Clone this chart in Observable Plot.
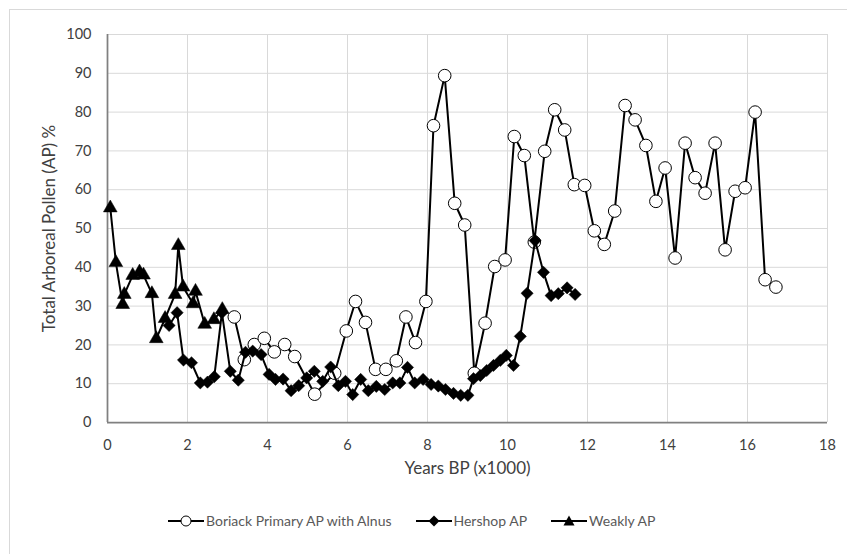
<!DOCTYPE html>
<html>
<head>
<meta charset="utf-8">
<script src="https://cdn.jsdelivr.net/npm/d3@7"></script>
<script src="https://cdn.jsdelivr.net/npm/@observablehq/plot@0.6"></script>
<style>
  body { margin: 0; background: #fff; }
  #wrap { position: relative; width: 847px; height: 554px; overflow: hidden; font-family: Lato, "Open Sans", sans-serif; }
  #frame { position: absolute; left: 9px; top: 9px; width: 900px; height: 600px; border: 1px solid #d9d9d9; box-sizing: border-box; }
  #chart { position: absolute; left: 0; top: 0; }
  #legend { position: absolute; left: 168px; top: 512px; display: flex; align-items: center; font-size: 14px; color: #595959; white-space: nowrap; }
  .item { display: flex; align-items: center; margin-right: 24px; }
  .item svg { margin-right: 2px; }
</style>
</head>
<body>
<div id="wrap">
  <div id="frame"></div>
  <div id="chart"></div>
  <div id="legend"></div>
</div>
<script>
// Boriack Primary AP with Alnus
const boriackX = [3.17,3.42,3.67,3.92,4.17,4.43,4.68,5.18,5.68,5.97,6.2,6.45,6.7,6.96,7.22,7.46,7.7,7.96,8.15,8.43,8.68,8.93,9.17,9.44,9.68,9.94,10.17,10.42,10.67,10.93,11.18,11.43,11.67,11.93,12.17,12.42,12.68,12.94,13.19,13.46,13.71,13.94,14.19,14.44,14.69,14.94,15.19,15.44,15.69,15.94,16.19,16.44,16.71];
const boriackY = [27.2,16.2,20.1,21.7,18.2,20.1,17,7.3,12.7,23.6,31.2,25.8,13.7,13.7,15.9,27.2,20.6,31.2,76.5,89.4,56.5,50.9,12.7,25.6,40.2,41.9,73.7,68.8,46.5,69.9,80.6,75.4,61.3,61.1,49.4,45.9,54.5,81.7,78,71.4,57,65.6,42.4,72,63.1,59.1,72,44.5,59.6,60.5,80,36.8,34.9];
// Hershop AP
const hershopX = [1.54,1.74,1.9,2.1,2.32,2.5,2.67,2.86,3.07,3.27,3.45,3.63,3.84,4.04,4.2,4.39,4.59,4.78,4.98,5.17,5.38,5.58,5.77,5.95,6.13,6.33,6.52,6.72,6.93,7.13,7.31,7.5,7.68,7.89,8.09,8.27,8.45,8.65,8.83,9.01,9.15,9.32,9.48,9.65,9.82,9.97,10.15,10.32,10.49,10.69,10.9,11.09,11.27,11.49,11.69];
const hershopY = [25,28.3,16.1,15.4,10.2,10.4,11.8,28.3,13.2,10.9,18.1,18.4,17.5,12.4,11.1,11.2,8.2,9.5,11.5,13.2,10.6,14.3,9.5,10.6,7.2,11.1,8.2,9.3,8.5,10.2,10.2,14.2,10.2,11.1,9.8,9.4,8.5,7.5,7.0,7.0,11.3,12.1,13.4,14.7,16,17.3,14.7,22.2,33.3,46.9,38.7,32.7,33.2,34.7,33];
// Weakly AP
const weaklyX = [0.07,0.21,0.38,0.42,0.63,0.8,0.9,1.11,1.22,1.44,1.69,1.77,1.89,2.14,2.2,2.43,2.66,2.87];
const weaklyY = [55.3,41.2,30.4,33,37.9,38.8,38,33.2,21.6,26.8,33,45.6,34.9,30.6,33.8,25.3,26.5,29.1];

const xTicks = [0,2,4,6,8,10,12,14,16,18];
const yTicks = [0,10,20,30,40,50,60,70,80,90,100];
const seriesNames = ["Boriack Primary AP with Alnus", "Hershop AP", "Weakly AP"];
const xLabel = "Years BP (x1000)";
const yLabel = "Total Arboreal Pollen (AP) %";

const toRows = (xs, ys) => xs.map((x, i) => ({x, y: ys[i]}));
const boriack = toRows(boriackX, boriackY);
const hershop = toRows(hershopX, hershopY);
const weakly = toRows(weaklyX, weaklyY);

const grid = "#d9d9d9";
const axisColor = "#808080";

const chart = Plot.plot({
  width: 847,
  height: 554,
  marginLeft: 107,
  marginRight: 20,
  marginTop: 34,
  marginBottom: 132,
  x: {domain: [0, 18]},
  y: {domain: [0, 100]},
  style: {fontFamily: "Lato, sans-serif", fontSize: "14.5px", color: "#404040", background: "transparent", overflow: "visible"},
  marks: [
    Plot.gridX(xTicks, {stroke: grid, strokeOpacity: 1, strokeWidth: 1}),
    Plot.gridY(yTicks, {stroke: grid, strokeOpacity: 1, strokeWidth: 1}),
    Plot.axisX(xTicks, {tickSize: 0, tickPadding: 17, label: null, tickFormat: d => String(d)}),
    Plot.axisX({label: xLabel, labelAnchor: "center", labelOffset: 51, labelArrow: "none", ticks: [], tickSize: 0, fontSize: 17}),
    Plot.axisY(yTicks, {tickSize: 0, tickPadding: 16, label: null, tickFormat: d => String(d)}),
    Plot.axisY({label: yLabel, labelAnchor: "center", labelOffset: 65, labelArrow: "none", ticks: [], tickSize: 0, fontSize: 17}),
    Plot.ruleX([0], {stroke: axisColor, strokeWidth: 1.75}),
    Plot.ruleY([0], {stroke: axisColor, strokeWidth: 1.75}),
    Plot.line(boriack, {x: "x", y: "y", stroke: "black", strokeWidth: 2}),
    Plot.dot(boriack, {x: "x", y: "y", r: 6.3, fill: "white", stroke: "black", strokeWidth: 1}),
    Plot.line(hershop, {x: "x", y: "y", stroke: "black", strokeWidth: 2}),
    Plot.dot(hershop, {x: "x", y: "y", symbol: "diamond2", r: 5.5, fill: "black", stroke: "black", strokeWidth: 0.5}),
    Plot.line(weakly, {x: "x", y: "y", stroke: "black", strokeWidth: 2}),
    Plot.dot(weakly, {x: "x", y: "y", symbol: "triangle", r: 5.1, fill: "black", stroke: "black", strokeWidth: 0.5})
  ]
});
document.getElementById("chart").appendChild(chart);

// Legend
const markerSvg = [
  '<svg width="36" height="14"><line x1="0" y1="7" x2="36" y2="7" stroke="black" stroke-width="2"/><circle cx="18" cy="7" r="5" fill="white" stroke="black" stroke-width="1"/></svg>',
  '<svg width="36" height="14"><line x1="0" y1="7" x2="36" y2="7" stroke="black" stroke-width="2"/><path d="M18,1.5L23.5,7L18,12.5L12.5,7Z" fill="black"/></svg>',
  '<svg width="36" height="14"><line x1="0" y1="7" x2="36" y2="7" stroke="black" stroke-width="2"/><path d="M18,1.5L23.5,11.5L12.5,11.5Z" fill="black"/></svg>'
];
const legend = document.getElementById("legend");
seriesNames.forEach((name, i) => {
  const item = document.createElement("div");
  item.className = "item";
  item.innerHTML = markerSvg[i] + "<span>" + name + "</span>";
  legend.appendChild(item);
});
</script>
</body>
</html>
